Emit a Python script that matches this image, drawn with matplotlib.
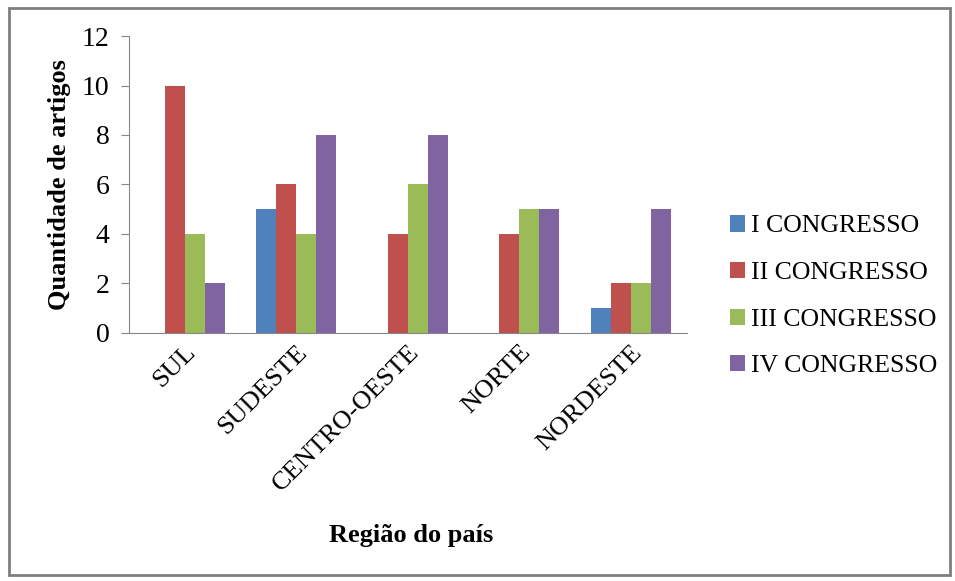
import numpy as np
import matplotlib.pyplot as plt
from matplotlib.patches import Rectangle

plt.rcParams['font.family'] = ['Liberation Serif', 'DejaVu Serif']

regioes = ["SUL", "SUDESTE", "CENTRO-OESTE", "NORTE", "NORDESTE"]
series = ["I CONGRESSO", "II CONGRESSO", "III CONGRESSO", "IV CONGRESSO"]
cong_1 = [0, 5, 0, 0, 1]
cong_2 = [10, 6, 4, 4, 2]
cong_3 = [4, 4, 6, 5, 2]
cong_4 = [2, 8, 8, 5, 5]
cores = ["#4F81BD", "#C0504D", "#9BBB59", "#8064A2"]

fig = plt.figure(figsize=(9.55, 5.81), dpi=100)
ax = fig.add_axes([0.135, 0.427, 0.584, 0.511])

x = np.arange(len(regioes))
w = 0.18
for i, vals in enumerate([cong_1, cong_2, cong_3, cong_4]):
    ax.bar(x + (i - 1.5) * w, vals, w, color=cores[i], label=series[i])

ax.set_xlim(-0.5, len(regioes) - 0.5)
ax.set_ylim(0, 12)
ax.set_yticks(range(0, 13, 2))
ax.set_xticks(x)
ax.set_xticklabels(regioes, rotation=45, ha='right', rotation_mode='anchor', fontsize=19)
ax.tick_params(axis='y', labelsize=20, length=6, color='#868686', pad=8)
ax.tick_params(axis='x', length=0, pad=6)

for s in ['top', 'right']:
    ax.spines[s].set_visible(False)
for s in ['left', 'bottom']:
    ax.spines[s].set_color('#868686')

ax.set_ylabel("Quantidade de artigos", fontsize=19, fontweight='bold', labelpad=8)
fig.text(0.43, 0.078, "Região do país", fontsize=19, fontweight='bold', ha='center', va='center')

# legenda à direita do gráfico
leg = ax.legend(loc='center left', frameon=False, fontsize=18.5,
                handlelength=0.6, handleheight=0.6, handletextpad=0.25, labelspacing=0.95,
                borderaxespad=0.0, borderpad=0.0)
leg.set_bbox_to_anchor((0.764, 0.49), transform=fig.transFigure)

# moldura externa
fig.patches.append(Rectangle((0.009, 0.01), 0.986, 0.977, transform=fig.transFigure,
                             fill=False, edgecolor='#7f7f7f', linewidth=2))

fig.savefig("out.png", dpi=100)
